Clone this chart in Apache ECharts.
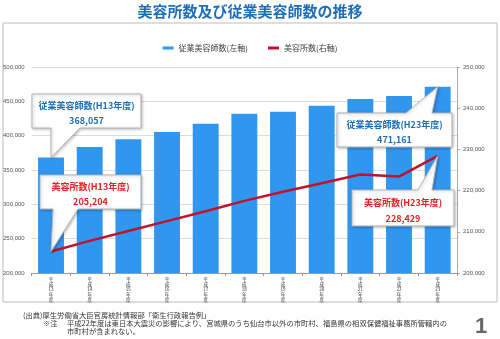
<!DOCTYPE html>
<html><head><meta charset="utf-8">
<script src="https://cdn.jsdelivr.net/npm/echarts@6/dist/echarts.min.js"></script>
<style>html,body{margin:0;padding:0;background:#fff}#c{width:500px;height:339px}</style>
</head><body><div id="c"></div>
<script>
var categories = ['平成13年度','平成14年度','平成15年度','平成16年度','平成17年度','平成18年度','平成19年度','平成20年度','平成21年度','平成22年度','平成23年度'];
var stylists = [368057, 383500, 394700, 405300, 417200, 432000, 435000, 443500, 453400, 457800, 471161];
var salons = [205204, 207800, 210200, 212600, 215000, 217500, 219700, 221800, 223900, 223400, 228429];
var leftTicks = [200000, 500000, 50000];
var rightTicks = [200000, 250000, 10000];
var seriesNames = ['従業美容師数(左軸)', '美容所数(右軸)'];
var titleText = '美容所数及び従業美容師数の推移';
var notes = ['(出典)厚生労働省大臣官房統計情報部「衛生行政報告例」', '※注', '平成22年度は東日本大震災の影響により、宮城県のうち仙台市以外の市町村、福島県の相双保健福祉事務所管轄内の', '市町村が含まれない。'];

var JP = '"Noto Sans CJK JP", sans-serif';
var BLUE = '#3196f0', RED = '#c1122b';
function fmt(v){ return v.toLocaleString('en-US'); }

var chart = echarts.init(document.getElementById('c'), null, {renderer:'canvas'});
var option = {
  animation: false,
  textStyle: {fontFamily: JP},
  legend: {
    top: 39, left: 'center', itemGap: 20, itemWidth: 11, itemHeight: 3, icon: 'rect',
    textStyle: {fontSize: 8, color: '#444', fontFamily: JP},
    data: seriesNames
  },
  grid: {left: 29, right: 43, top: 67, bottom: 66},
  xAxis: {
    type: 'category', data: categories,
    axisLine: {lineStyle: {color: '#999'}},
    axisTick: {show: true, length: 3, lineStyle: {color: '#999'}},
    axisLabel: {
      interval: 0, margin: 4, fontSize: 4.5, lineHeight: 5, color: '#333', fontFamily: JP,
      formatter: function(v){ var m = v.match(/^(.)(.)(\d+)(.)(.)$/); return m ? [m[1],m[2],m[3],m[4],m[5]].join('\n') : v; }
    }
  },
  yAxis: [
    {type: 'value', min: leftTicks[0], max: leftTicks[1], interval: leftTicks[2],
     axisLine: {show: false}, axisTick: {show: false},
     splitLine: {lineStyle: {color: '#dcdcdc'}},
     axisLabel: {fontSize: 6, color: '#555', margin: 7, fontFamily: 'Liberation Sans', formatter: fmt}},
    {type: 'value', min: rightTicks[0], max: rightTicks[1], interval: rightTicks[2],
     axisLine: {show: true, lineStyle: {color: '#aaa'}}, axisTick: {show: true, length: 3, lineStyle: {color: '#aaa'}},
     splitLine: {show: false},
     axisLabel: {fontSize: 6, color: '#555', margin: 6, fontFamily: 'Liberation Sans', formatter: fmt}}
  ],
  series: [
    {name: seriesNames[0], type: 'bar', yAxisIndex: 0, data: stylists, barCategoryGap: '33%',
     itemStyle: {color: BLUE}},
    {name: seriesNames[1], type: 'line', yAxisIndex: 1, data: salons, symbol: 'none',
     lineStyle: {color: RED, width: 2.5}, itemStyle: {color: RED}, z: 3}
  ]
};
chart.setOption(option);

function callout(box, tailSide, t1, t2, tip, color, l1, l2){
  var L = box[0], T = box[1], R = box[2], B = box[3];
  var pts;
  if (tailSide === 'bottom') pts = [[L,T],[R,T],[R,B],[t2,B],tip,[t1,B],[L,B]];
  else pts = [[L,T],[t1,T],tip,[t2,T],[R,T],[R,B],[L,B]];
  var cx = (L+R)/2, h = B-T;
  return [
    {type:'polygon', z: 100, shape:{points: pts},
     style:{fill:'#fff', stroke:'#b5b5b5', lineWidth:1, shadowBlur:3, shadowColor:'rgba(0,0,0,0.25)', shadowOffsetX:1, shadowOffsetY:1}},
    {type:'text', z: 101, x: cx, y: T + h*0.34,
     style:{text:l1, fill:color, font:'bold 9px ' + JP, textAlign:'center', textVerticalAlign:'middle'}},
    {type:'text', z: 101, x: cx, y: T + h*0.78,
     style:{text:l2, fill:color, font:'bold 9px ' + JP, textAlign:'center', textVerticalAlign:'middle'}}
  ];
}

var n = categories.length - 1;
var pBar0 = chart.convertToPixel({seriesIndex:0}, [0, stylists[0]]);
var pBarN = chart.convertToPixel({seriesIndex:0}, [n, stylists[n]]);
var pLine0 = chart.convertToPixel({seriesIndex:1}, [0, salons[0]]);
var pLineN = chart.convertToPixel({seriesIndex:1}, [n, salons[n]]);
var BLUE_T = '#1d6fb3', RED_T = '#e02020';

var g = [];
g.push({type:'rect', z: -1, shape:{x:3, y:23, width:494, height:279}, style:{fill:'none', stroke:'#bdbdbd', lineWidth:1}});
g.push({type:'text', x:250, y:11, style:{text:titleText, fill:'#1e6fba', font:'bold 15px ' + JP, textAlign:'center', textVerticalAlign:'middle'}});
g = g.concat(callout([32,94,141,128], 'bottom', 51, 80, pBar0, BLUE_T, '従業美容師数(H13年度)', fmt(stylists[0])));
g = g.concat(callout([40,175,141,209], 'bottom', 53, 78, pLine0, RED_T, '美容所数(H13年度)', fmt(salons[0])));
g = g.concat(callout([337,113,452,147], 'top', 406, 432, pBarN, BLUE_T, '従業美容師数(H23年度)', fmt(stylists[n])));
g = g.concat(callout([352,190,454,226], 'top', 418, 432, pLineN, RED_T, '美容所数(H23年度)', fmt(salons[n])));
g.push({type:'text', x:23, y:315, style:{text:notes[0], fill:'#333', font:'7.3px ' + JP, textVerticalAlign:'middle'}});
g.push({type:'text', x:43, y:323.5, style:{text:notes[1], fill:'#333', font:'7.3px ' + JP, textVerticalAlign:'middle'}});
g.push({type:'text', x:67, y:323.5, style:{text:notes[2], fill:'#333', font:'7.3px ' + JP, textVerticalAlign:'middle'}});
g.push({type:'text', x:67, y:331.5, style:{text:notes[3], fill:'#333', font:'7.3px ' + JP, textVerticalAlign:'middle'}});
g.push({type:'text', x:481, y:327, style:{text:'1', fill:'#666', font:'bold 22px "Liberation Sans", sans-serif', textAlign:'center', textVerticalAlign:'middle'}});
chart.setOption({graphic: g});
</script></body></html>
